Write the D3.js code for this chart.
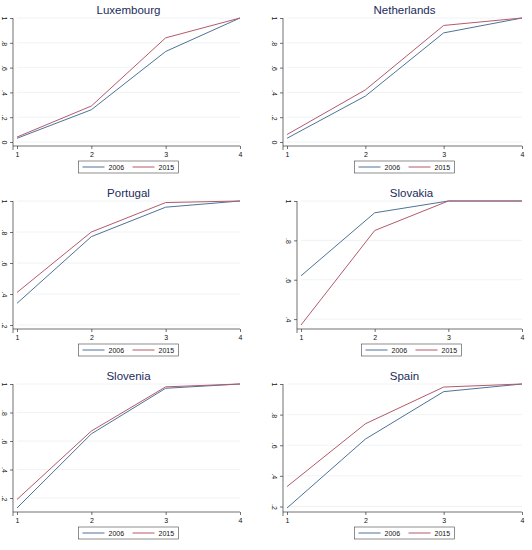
<!DOCTYPE html>
<html><head><meta charset="utf-8">
<script src="https://cdn.jsdelivr.net/npm/d3@7"></script>
<style>body{margin:0;background:#fff}text{font-family:Arial,"Liberation Sans",sans-serif}</style>
</head><body><svg id="c" width="532" height="550"></svg>
<script>
const countries = ["Luxembourg","Netherlands","Portugal","Slovakia","Slovenia","Spain"];
const xVals = [1, 2, 3, 4];
const s2006 = [[.03,.26,.73,1],[.03,.37,.88,1],[.34,.77,.96,1],[.62,.94,1,1],[.13,.65,.97,1],[.19,.64,.95,1]];
const s2015 = [[.04,.29,.84,1],[.06,.42,.94,1],[.41,.80,.99,1],[.37,.85,1,1],[.19,.67,.98,1],[.33,.74,.98,1]];
const yDomains = [[0,1],[0,1],[.2,1],[.37,1],[.13,1],[.19,1]];
const yTicks = [[0,.2,.4,.6,.8,1],[0,.2,.4,.6,.8,1],[.2,.4,.6,.8,1],[.4,.6,.8,1],[.2,.4,.6,.8,1],[.2,.4,.6,.8,1]];
const legendLabels = ["2006","2015"];
const colors = ["#4d7399","#b35a6b"];
const fmt = v => v === 0 ? "0" : v === 1 ? "1" : d3.format(".1f")(v).replace(/^0/, "");

const svg = d3.select("#c");
const leftM = [17, 21, 17, 35, 17, 21];
countries.forEach((name, i) => {
  const col = i % 2, row = Math.floor(i / 2);
  const ox = col * 266, oy = row * 183;
  const g = svg.append("g").attr("transform", `translate(${ox},${oy})`);
  const x = d3.scaleLinear().domain([1, 4]).range([leftM[i], col ? 256 : 240]);
  const y = d3.scaleLinear().domain(yDomains[i]).range([142, 18]);
  g.append("text").attr("x", (x.range()[0] + x.range()[1]) / 2).attr("y", 14)
    .attr("text-anchor", "middle").attr("font-size", 11.5).attr("fill", "#1c2b5c").text(name);
  g.append("g").selectAll("line").data(yTicks[i]).join("line")
    .attr("x1", x.range()[0]).attr("x2", x.range()[1]).attr("y1", d => y(d)).attr("y2", d => y(d))
    .attr("stroke", "#eaf0f2").attr("stroke-width", 0.8);
  const ax = g.append("g").attr("transform", `translate(0,146)`)
    .call(d3.axisBottom(x).tickValues(xVals).tickFormat(d3.format("d")).tickSize(3).tickSizeOuter(0));
  const ay = g.append("g").attr("transform", `translate(${x.range()[0] - 4},0)`)
    .call(d3.axisLeft(y).tickValues(yTicks[i]).tickFormat(fmt).tickSize(3).tickSizeOuter(0));
  [ax, ay].forEach(a => {
    a.selectAll("text").attr("font-size", 7).attr("fill", "#111");
    a.selectAll("path,line").attr("stroke", "#333").attr("stroke-width", 0.7);
  });
  ax.select(".domain").attr("d", `M${x.range()[0] - 4},0H${x.range()[1]}`);
  ay.select(".domain").attr("d", `M0,${y.range()[1]}V150`);
  ay.selectAll("text").attr("text-anchor", "middle")
    .attr("x", 0).attr("y", 0).attr("dy", null)
    .attr("transform", "translate(-11,0) rotate(90)");
  const line = d3.line().x((d, k) => x(xVals[k])).y(d => y(d));
  [s2006[i], s2015[i]].forEach((s, k) => {
    g.append("path").attr("d", line(s)).attr("fill", "none").attr("stroke", colors[k]).attr("stroke-width", 1);
  });
  const lx = (x.range()[0] + x.range()[1]) / 2 - 50;
  g.append("rect").attr("x", lx).attr("y", 161).attr("width", 100).attr("height", 12)
    .attr("fill", "#fff").attr("stroke", "#444").attr("stroke-width", 0.6);
  legendLabels.forEach((lab, k) => {
    const bx = lx + 4 + k * 50;
    g.append("line").attr("x1", bx).attr("x2", bx + 22).attr("y1", 167).attr("y2", 167)
      .attr("stroke", colors[k]).attr("stroke-width", 1);
    g.append("text").attr("x", bx + 26).attr("y", 170).attr("font-size", 7).attr("fill", "#111").text(lab);
  });
});
</script></body></html>
